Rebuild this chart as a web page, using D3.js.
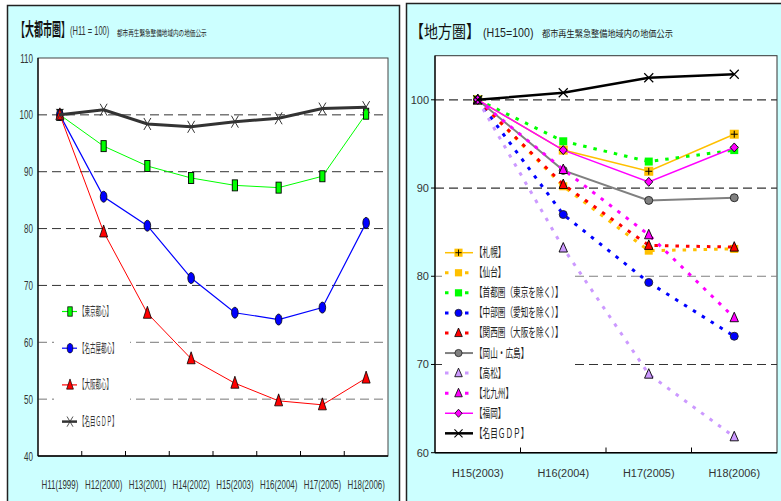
<!DOCTYPE html>
<html>
<head>
<meta charset="utf-8">
<script src="https://cdn.jsdelivr.net/npm/d3@7"></script>
<style>
  body { margin: 0; background: #fff; }
  svg { display: block; }
</style>
</head>
<body>
<div id="chart"></div>
<script>
// ---- left: 大都市圏 (H11=100)
const catsL = ["H11(1999)", "H12(2000)", "H13(2001)", "H14(2002)", "H15(2003)", "H16(2004)", "H17(2005)", "H18(2006)"];
const tokyo  = [100, 94.5, 91.0, 88.9, 87.6, 87.2, 89.2, 100.2];
const nagoya = [100, 85.6, 80.5, 71.3, 65.2, 64.0, 66.1, 81.0];
const osaka  = [100, 79.4, 65.1, 57.1, 52.8, 49.7, 49.0, 53.7];
const gdpL   = [100, 100.9, 98.4, 97.9, 98.8, 99.4, 101.1, 101.35];
const ticksL = [40, 50, 60, 70, 80, 90, 100, 110];

// ---- right: 地方圏 (H15=100)
const catsR = ["H15(2003)", "H16(2004)", "H17(2005)", "H18(2006)"];
const sapporo    = [100, 94.3, 91.9, 96.1];
const sendai     = [100, 90.2, 82.9, 83.1];
const shuto      = [100, 95.3, 93.0, 94.3];
const chubu      = [100, 87.0, 79.3, 73.2];
const kansai     = [100, 90.4, 83.5, 83.3];
const okayama    = [100, 92.0, 88.6, 88.9];
const takamatsu  = [100, 83.2, 68.9, 61.8];
const kitakyushu = [100, 92.1, 84.7, 75.3];
const fukuoka    = [100, 94.3, 90.7, 94.6];
const gdpR       = [100, 100.8, 102.5, 102.9];
const ticksR = [60, 70, 80, 90, 100];

const W = 781, H = 501;
const JP = "'Noto Sans CJK JP', 'Noto Sans', sans-serif";
const AR = "'Liberation Sans', Arial, sans-serif";

const svg = d3.select("#chart").append("svg").attr("width", W).attr("height", H);

// condensed text: scale horizontally around the anchor point
function ctext(x, y, str, o) {
  return svg.append("text")
    .attr("transform", `translate(${x},${y}) scale(${o.k || 1},1)`)
    .attr("text-anchor", o.anchor || "start")
    .attr("font-family", o.font || JP)
    .attr("font-size", o.size || 12)
    .attr("font-weight", o.weight || null)
    .attr("fill", o.fill || "#222")
    .text(str);
}

// marker shapes
const shapes = {
  rectTall: (g, c) => g.append("rect").attr("x", -2.6).attr("y", -5.5).attr("width", 5.2).attr("height", 11)
    .attr("fill", c).attr("stroke", "#000").attr("stroke-width", 0.9),
  ellipse: (g, c) => g.append("ellipse").attr("rx", 3.3).attr("ry", 5.5)
    .attr("fill", c).attr("stroke", "#000").attr("stroke-width", 0.8),
  triTall: (g, c) => g.append("path").attr("d", "M0,-7L4,5L-4,5Z")
    .attr("fill", c).attr("stroke", "#000").attr("stroke-width", 0.8),
  xTall: (g, c) => g.append("path").attr("d", "M-3.5,-6L3.5,6M-3.5,6L3.5,-6")
    .attr("fill", "none").attr("stroke", c).attr("stroke-width", 1),
  squarePlus: (g, c) => {
    g.append("rect").attr("x", -4.5).attr("y", -4.5).attr("width", 9).attr("height", 9).attr("fill", c);
    g.append("path").attr("d", "M-3.5,0H3.5M0,-3.5V3.5").attr("stroke", "#000").attr("stroke-width", 1);
  },
  square: (g, c) => g.append("rect").attr("x", -4).attr("y", -4).attr("width", 8).attr("height", 8).attr("fill", c),
  circle: (g, c) => g.append("circle").attr("r", 4).attr("fill", c).attr("stroke", "#222").attr("stroke-width", 0.9),
  tri: (g, c) => g.append("path").attr("d", "M0,-5.5L4.2,4L-4.2,4Z")
    .attr("fill", c).attr("stroke", "#000").attr("stroke-width", 0.9),
  diamond: (g, c) => g.append("path").attr("d", "M0,-4.5L4,0L0,4.5L-4,0Z")
    .attr("fill", c).attr("stroke", "#000").attr("stroke-width", 0.9),
  x: (g, c) => g.append("path").attr("d", "M-4.5,-4.5L4.5,4.5M-4.5,4.5L4.5,-4.5")
    .attr("fill", "none").attr("stroke", c).attr("stroke-width", 1.2)
};

// ================= LEFT PANEL =================
svg.append("rect").attr("x", 7.5).attr("y", 5.5).attr("width", 392).attr("height", 520)
  .attr("fill", "#ccffff").attr("stroke", "#222").attr("stroke-width", 1.5);

const xL = d3.scaleBand().domain(catsL).range([38, 388]);
const yL = d3.scaleLinear().domain([40, 110]).range([456, 58]);

svg.append("rect").attr("x", 38).attr("y", 58).attr("width", 350).attr("height", 398)
  .attr("fill", "#fff").attr("stroke", "#444").attr("stroke-width", 1);

svg.append("g").selectAll("line").data(ticksL.filter(v => v > 40 && v < 110)).join("line")
  .attr("x1", 38).attr("x2", 388)
  .attr("y1", d => yL(d)).attr("y2", d => yL(d))
  .attr("stroke", d => d <= 60 ? "#777" : "#333").attr("stroke-width", 1)
  .attr("stroke-dasharray", "9,5");

// legend box hides gridlines behind it
svg.append("rect").attr("x", 54).attr("y", 292).attr("width", 76).attr("height", 146).attr("fill", "#fff");

// axes
svg.append("line").attr("x1", 38).attr("x2", 388).attr("y1", 456).attr("y2", 456)
  .attr("stroke", "#000").attr("stroke-width", 1.5);
svg.append("line").attr("x1", 38).attr("x2", 38).attr("y1", 58).attr("y2", 456)
  .attr("stroke", "#000").attr("stroke-width", 1.2);
svg.append("g").selectAll("line").data(catsL.slice(1)).join("line")
  .attr("x1", d => xL(d)).attr("x2", d => xL(d)).attr("y1", 456).attr("y2", 451)
  .attr("stroke", "#000").attr("stroke-width", 1);

ticksL.forEach(v => ctext(33, yL(v) + 4.5, v, { font: AR, size: 13, k: 0.62, anchor: "end", fill: "#333" }));
catsL.forEach(c => ctext(xL(c) + xL.bandwidth() / 2, 489, c, { font: AR, size: 12, k: 0.66, anchor: "middle", fill: "#333" }));

const seriesL = [
  { name: "【東京都心】", values: tokyo, color: "#00ff00", width: 1, marker: "rectTall" },
  { name: "【名古屋都心】", values: nagoya, color: "#0000ff", width: 1.2, marker: "ellipse" },
  { name: "【大阪都心】", values: osaka, color: "#ff0000", width: 1, marker: "triTall" },
  { name: "【名目ＧＤＰ】", values: gdpL, color: "#333", width: 3, marker: "xTall" }
];

const lineL = d3.line().x((d, i) => xL(catsL[i]) + xL.bandwidth() / 2).y(d => yL(d));

seriesL.forEach(s => {
  svg.append("path").datum(s.values).attr("d", lineL)
    .attr("fill", "none").attr("stroke", s.color).attr("stroke-width", s.width);
  s.values.forEach((v, i) => {
    const g = svg.append("g").attr("transform", `translate(${xL(catsL[i]) + xL.bandwidth() / 2},${yL(v)})`);
    shapes[s.marker](g, s.color);
  });
});

// left legend
seriesL.forEach((s, i) => {
  const y = 311.5 + i * 36.7;
  svg.append("line").attr("x1", 62).attr("x2", 77).attr("y1", y).attr("y2", y)
    .attr("stroke", s.color).attr("stroke-width", s.width === 3 ? 2.5 : 1.2);
  const g = svg.append("g").attr("transform", `translate(70,${y}) scale(0.85)`);
  shapes[s.marker](g, s.color);
  ctext(79, y + 4.5, s.name, { size: 12.5, k: 0.44, fill: "#333" });
});

// left title
ctext(16, 36, "【大都市圏】", { size: 18, k: 0.5, weight: "bold", fill: "#111" });
ctext(70, 35, "(H11 = 100)", { font: AR, size: 12.5, k: 0.6, fill: "#333" });
ctext(117, 36, "都市再生緊急整備地域内の地価公示", { size: 8.5, k: 0.66, fill: "#222" });

// ================= RIGHT PANEL =================
svg.append("rect").attr("x", 406.5).attr("y", 3.5).attr("width", 400).attr("height", 520)
  .attr("fill", "#ccffff").attr("stroke", "#222").attr("stroke-width", 1.5);

const xR = d3.scaleBand().domain(catsR).range([435, 777]);
const yR = d3.scaleLinear().domain([60, 105]).range([452.7, 55.7]);

svg.append("rect").attr("x", 435).attr("y", 55.7).attr("width", 342).attr("height", 397)
  .attr("fill", "#fff").attr("stroke", "#333").attr("stroke-width", 1);

svg.append("g").selectAll("line").data(ticksR.filter(v => v > 60)).join("line")
  .attr("x1", 435).attr("x2", 777)
  .attr("y1", d => yR(d)).attr("y2", d => yR(d))
  .attr("stroke", d => d === 80 ? "#808080" : "#333").attr("stroke-width", 1.2)
  .attr("stroke-dasharray", "9,5");

svg.append("rect").attr("x", 442).attr("y", 241).attr("width", 131).attr("height", 206).attr("fill", "#fff");

svg.append("line").attr("x1", 435).attr("x2", 777).attr("y1", 452.7).attr("y2", 452.7)
  .attr("stroke", "#000").attr("stroke-width", 1.5);
svg.append("line").attr("x1", 435).attr("x2", 435).attr("y1", 55.7).attr("y2", 452.7)
  .attr("stroke", "#000").attr("stroke-width", 1.2);
svg.append("g").selectAll("line").data(catsR.slice(1)).join("line")
  .attr("x1", d => xR(d)).attr("x2", d => xR(d)).attr("y1", 452.7).attr("y2", 447.5)
  .attr("stroke", "#000").attr("stroke-width", 1);
svg.append("g").selectAll("line").data(ticksR).join("line")
  .attr("x1", 431).attr("x2", 435).attr("y1", d => yR(d)).attr("y2", d => yR(d))
  .attr("stroke", "#000").attr("stroke-width", 1);

ticksR.forEach(v => ctext(429, yR(v) + 4, v, { font: AR, size: 11, anchor: "end", fill: "#333" }));
catsR.forEach(c => ctext(xR(c) + xR.bandwidth() / 2, 477, c, { font: AR, size: 11.5, k: 0.95, anchor: "middle", fill: "#333" }));

const DOT = "3.5,7";
const seriesR = [
  { name: "【札幌】", values: sapporo, color: "#ffc000", width: 1.5, dash: null, marker: "squarePlus" },
  { name: "【仙台】", values: sendai, color: "#ffc000", width: 3, dash: DOT, marker: "square" },
  { name: "【首都圏（東京を除く）】", values: shuto, color: "#00ff00", width: 3, dash: DOT, marker: "square" },
  { name: "【中部圏（愛知を除く）】", values: chubu, color: "#0000ff", width: 3, dash: DOT, marker: "circle" },
  { name: "【関西圏（大阪を除く）】", values: kansai, color: "#ff0000", width: 3, dash: DOT, marker: "tri" },
  { name: "【岡山・広島】", values: okayama, color: "#808080", width: 2, dash: null, marker: "circle" },
  { name: "【高松】", values: takamatsu, color: "#cc99ff", width: 3, dash: DOT, marker: "tri" },
  { name: "【北九州】", values: kitakyushu, color: "#ff00ff", width: 3, dash: DOT, marker: "tri" },
  { name: "【福岡】", values: fukuoka, color: "#ff00ff", width: 1.5, dash: null, marker: "diamond" },
  { name: "【名目ＧＤＰ】", values: gdpR, color: "#000", width: 2.5, dash: null, marker: "x" }
];

const lineR = d3.line().x((d, i) => xR(catsR[i]) + xR.bandwidth() / 2).y(d => yR(d));

seriesR.forEach(s => {
  svg.append("path").datum(s.values).attr("d", lineR)
    .attr("fill", "none").attr("stroke", s.color).attr("stroke-width", s.width)
    .attr("stroke-dasharray", s.dash);
  s.values.forEach((v, i) => {
    const g = svg.append("g").attr("transform", `translate(${xR(catsR[i]) + xR.bandwidth() / 2},${yR(v)})`);
    shapes[s.marker](g, s.color);
  });
});

// right legend
seriesR.forEach((s, i) => {
  const y = 252.7 + i * 20.07;
  svg.append("line").attr("x1", 445).attr("x2", 473).attr("y1", y).attr("y2", y)
    .attr("stroke", s.color).attr("stroke-width", s.dash ? 3 : s.width)
    .attr("stroke-dasharray", s.dash ? "3.5,6.5" : null);
  const g = svg.append("g").attr("transform", `translate(458.5,${y}) scale(0.9)`);
  if (s.dash) g.append("rect").attr("x", -6).attr("y", -6).attr("width", 12).attr("height", 12).attr("fill", "#fff");
  shapes[s.marker](g, s.color);
  ctext(475, y + 4.5, s.name, { size: 12.5, k: 0.61, fill: "#222" });
});

// right title
ctext(410, 38, "【地方圏】", { size: 17.5, k: 0.8, fill: "#111" });
ctext(483, 37, "(H15=100)", { font: AR, size: 12.5, k: 0.85, fill: "#222" });
ctext(542, 37, "都市再生緊急整備地域内の地価公示", { size: 9, k: 0.91, fill: "#222" });
</script>
</body>
</html>
